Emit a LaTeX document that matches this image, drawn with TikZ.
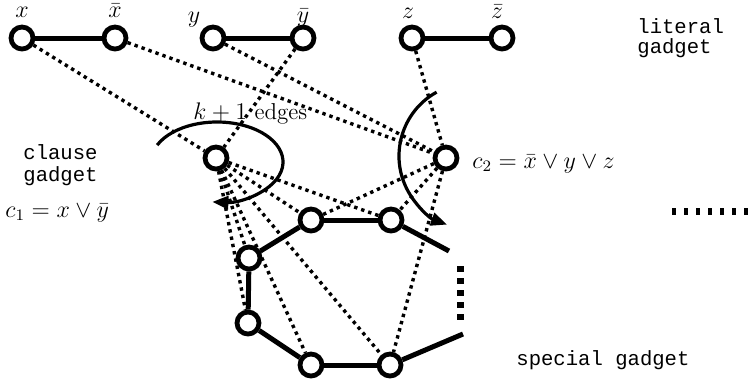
\documentclass[tikz,border=0pt]{standalone}
\usepackage{fontspec}
\newfontfamily\gadgetfont{Liberation Mono}
\usetikzlibrary{arrows.meta}
\begin{document}
\begin{tikzpicture}[x=0.5pt,y=-0.5pt,
  vtx/.style={circle,draw,line width=2.4pt,fill=white,inner sep=0pt,minimum size=11pt},
  solidedge/.style={line width=2.5pt},
  dotedge/.style={line width=1.7pt,dash pattern=on 1.7pt off 2pt},
  lbl/.style={font=\fontsize{11.5}{14}\selectfont,inner sep=0pt},
  ttlbl/.style={font=\fontsize{10.3}{11}\selectfont\gadgetfont,inner sep=0pt,anchor=base west},
  bigdots/.style={line width=3.5pt},
  arcarrow/.style={line width=1.6pt,-{Triangle[length=8pt,width=6.5pt]}}]
\useasboundingbox (0,0) rectangle (751,382);

% literal gadgets
\node[vtx] (x)  at (22,38) {};
\node[vtx] (xb) at (115,38) {};
\node[vtx] (y)  at (213,38) {};
\node[vtx] (yb) at (303,38) {};
\node[vtx] (z)  at (412,38) {};
\node[vtx] (zb) at (502,38) {};
\draw[solidedge] (x) -- (xb);
\draw[solidedge] (y) -- (yb);
\draw[solidedge] (z) -- (zb);

\node[lbl,anchor=base] (lx)  at (22,17.5) {$x$};
\node[lbl,anchor=base] (lxb) at (115,17.5) {$\bar{x}$};
\node[lbl,anchor=base] (ly)  at (194,22) {$y$};
\node[lbl,anchor=base] (lyb) at (303,22) {$\bar{y}$};
\node[lbl,anchor=base] (lz)  at (408,18) {$z$};
\node[lbl,anchor=base] (lzb) at (497,18) {$\bar{z}$};

% clause vertices
\node[vtx] (c1) at (216,158) {};
\node[vtx] (c2) at (446,158) {};

% special gadget
\node[vtx] (A) at (311,220) {};
\node[vtx] (B) at (391,220) {};
\node[vtx] (C) at (249,258) {};
\node[vtx] (D) at (248,323) {};
\node[vtx] (E) at (311,365) {};
\node[vtx] (F) at (390,365) {};
\coordinate (Bend) at (449,251);
\coordinate (Fend) at (463,334);

\draw[solidedge] (A) -- (B);
\draw[solidedge] (A) -- (C);
\draw[solidedge] (C) -- (D);
\draw[solidedge] (D) -- (E);
\draw[solidedge] (E) -- (F);
\draw[solidedge] (B) -- (Bend);
\draw[solidedge] (F) -- (Fend);

% dotted connections
\draw[dotedge] (x) -- (c1);
\draw[dotedge] (yb) -- (c1);
\draw[dotedge] (xb) -- (c2);
\draw[dotedge] (y) -- (c2);
\draw[dotedge] (z) -- (c2);
\foreach \t in {A,B,C,D,E,F} \draw[dotedge] (c1) -- (\t);
\foreach \t in {A,B,F} \draw[dotedge] (c2) -- (\t);

% big dots
\coordinate (vd1) at (460,266);
\coordinate (vd2) at (460,320);
\draw[bigdots,dash pattern=on 3pt off 3pt] (vd1) -- (vd2);
\coordinate (hd1) at (672,211);
\coordinate (hd2) at (748,211);
\draw[bigdots,dash pattern=on 2.2pt off 3.8pt] (hd1) -- (hd2);

% arcs
\draw[arcarrow] (217,162) ++(155:33pt and 20pt) arc[start angle=155,end angle=-94,x radius=33pt,y radius=20pt];
\draw[arcarrow] (472,156) ++(119:36.5pt) arc[start angle=119,end angle=250,radius=36.5pt];

% labels
\node[lbl,anchor=base west] (kedges) at (193,119) {$k+1$ edges};
\node[lbl,anchor=base west] (lc2) at (472,168) {$c_2=\bar{x}\vee y\vee z$};
\node[lbl,anchor=base west] (lc1) at (5,217) {$c_1=x\vee\bar{y}$};

\node[ttlbl] (lit1) at (637,33) {literal};
\node[ttlbl] (lit2) at (637,53) {gadget};
\node[ttlbl] (cl1) at (23,159) {clause};
\node[ttlbl] (cl2) at (23,181) {gadget};
\node[ttlbl] (sp) at (516,365) {special gadget};
\end{tikzpicture}
\end{document}
